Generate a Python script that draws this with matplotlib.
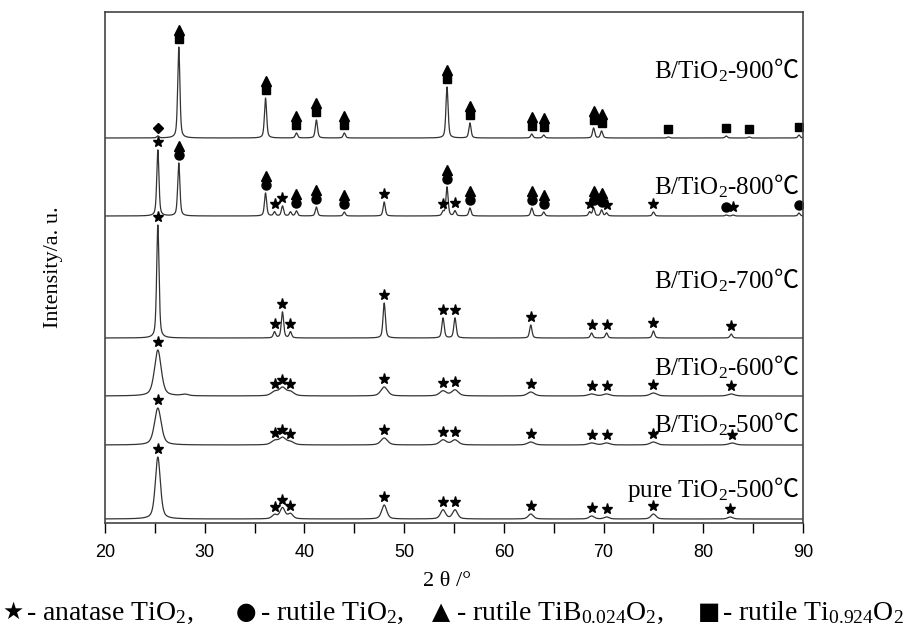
import numpy as np
import matplotlib
matplotlib.use('Agg')
import matplotlib.pyplot as plt

plt.rcParams['font.family'] = ['Liberation Serif', 'Noto Sans CJK SC', 'DejaVu Sans']
plt.rcParams['mathtext.fontset'] = 'custom'
plt.rcParams['mathtext.rm'] = 'Liberation Serif'
plt.rcParams['mathtext.sf'] = 'Noto Sans CJK SC'
plt.rcParams['mathtext.default'] = 'regular'

# XRD patterns, bottom to top
labels = [r'pure TiO$_2$-500$\mathsf{℃}$', r'B/TiO$_2$-500$\mathsf{℃}$',
          r'B/TiO$_2$-600$\mathsf{℃}$', r'B/TiO$_2$-700$\mathsf{℃}$',
          r'B/TiO$_2$-800$\mathsf{℃}$', r'B/TiO$_2$-900$\mathsf{℃}$']
offsets = [4, 78, 127, 185, 307, 385]
peak_width = [0.30, 0.40, 0.40, 0.14, 0.13, 0.13]
label_y = [33, 99, 156, 243, 337, 453]

# peak positions (2theta), heights, phase markers (top to bottom)
pure_pos = [25.3, 37.0, 37.8, 38.6, 48.0, 53.9, 55.1, 62.7, 68.8, 70.3, 75.0, 82.7]
pure_hgt = [62, 4, 11, 5, 14, 9, 9, 5, 3, 2, 5, 2]
pure_mrk = ['*'] * 12

b500_pos = [25.3, 37.0, 37.8, 38.6, 48.0, 53.9, 55.1, 62.7, 68.8, 70.3, 75.0, 82.9]
b500_hgt = [37, 4, 7, 3, 7, 5, 5, 3, 2, 2, 3, 2]
b500_mrk = ['*'] * 12

b600_pos = [25.3, 28.0, 37.0, 37.8, 38.6, 48.0, 53.9, 55.1, 62.7, 68.8, 70.3, 75.0, 82.8]
b600_hgt = [46, 1.5, 4, 8, 4, 9, 5, 6, 4, 2, 2, 3, 2]
b600_mrk = ['*', '', '*', '*', '*', '*', '*', '*', '*', '*', '*', '*', '*']

b700_pos = [25.3, 37.0, 37.8, 38.6, 48.0, 53.9, 55.1, 62.7, 68.8, 70.3, 75.0, 82.8]
b700_hgt = [113, 6, 26, 6, 35, 20, 20, 13, 5, 5, 7, 4]
b700_mrk = ['*'] * 12

b800_pos = [25.3, 27.4, 36.1, 37.0, 37.8, 38.6, 39.2, 41.2, 44.0, 48.0, 53.9, 54.3,
            55.1, 56.6, 62.8, 64.0, 68.6, 69.0, 69.8, 70.3, 75.0, 82.3, 83.0, 89.6]
b800_hgt = [66, 53, 23, 4, 10, 4, 5, 9, 4, 14, 4, 29,
            5, 8, 8, 4, 4, 8, 6, 3, 4, 1, 1, 3]
b800_mrk = ['*', '^o', '^o', '*', '*', '', '^o', '^o', '^o', '*', '*', '^o',
            '*', '^o', '^o', '^o', '*', '^o', '^o', '*', '*', 'o', '*', 'o']

b900_pos = [25.3, 27.4, 36.1, 39.2, 41.2, 44.0, 54.3, 56.6, 62.8, 64.0,
            69.0, 69.8, 76.5, 82.3, 84.6, 89.6]
b900_hgt = [2, 91, 40, 5, 18, 5, 51, 15, 4, 3, 10, 7, 1, 2, 1, 3]
b900_mrk = ['D', '^s', '^s', '^s', '^s', '^s', '^s', '^s', '^s', '^s',
            '^s', '^s', 's', 's', 's', 's']

patterns = [(pure_pos, pure_hgt, pure_mrk), (b500_pos, b500_hgt, b500_mrk),
            (b600_pos, b600_hgt, b600_mrk), (b700_pos, b700_hgt, b700_mrk),
            (b800_pos, b800_hgt, b800_mrk), (b900_pos, b900_hgt, b900_mrk)]

legend_symbols = ['★', '●', '▲', '■']
legend_texts = ['- anatase TiO$_2$,', '- rutile TiO$_2$,',
                '- rutile TiB$_{0.024}$O$_2$,', '- rutile Ti$_{0.924}$O$_2$']
legend_x = [2, 236, 432, 698]

marker_size = {'*': 8, 'o': 6.5, '^': 7, 's': 6, 'D': 5}

fig = plt.figure(figsize=(9.23, 6.37), dpi=100)
ax = fig.add_axes([105 / 923, 1 - 523 / 637, 698 / 923, 511 / 637])

x = np.linspace(20, 90, 7001)
for i, (pos, hgt, mrk) in enumerate(patterns):
    w = peak_width[i]
    y = np.full_like(x, offsets[i], dtype=float)
    for p, h in zip(pos, hgt):
        y += h / (1 + ((x - p) / w) ** 2) * 0.5 + h * np.exp(-((x - p) / w) ** 2 * np.log(2)) * 0.5
    ax.plot(x, y, color='#333333', lw=0.9)
    for p, h, m in zip(pos, hgt, mrk):
        yy = offsets[i] + h + 8
        for sym in reversed(m):
            ax.plot(p, yy, marker=sym, color='black', ms=marker_size[sym], mec='black')
            yy += 9
    ax.text(89.6, label_y[i], labels[i], ha='right', va='center', fontsize=18)

ax.set_xlim(20, 90)
ax.set_ylim(0, 511)
ax.set_xticks(range(20, 91, 10))
ax.set_xticks(range(25, 90, 10), minor=True)
ax.set_yticks([])
ax.tick_params(direction='out', length=7, width=1, pad=8)
ax.tick_params(which='minor', direction='out', length=7, width=1)
for lab in ax.get_xticklabels():
    lab.set_family('Liberation Sans')
    lab.set_fontsize(13)
for s in ax.spines.values():
    s.set_linewidth(1.2)
    s.set_color('#444444')

ax.set_ylabel('Intensity/a. u.', fontsize=16, labelpad=30)
fig.text(447 / 923, 1 - 582 / 637, '2 θ /°', ha='center', va='center', fontsize=16)
for xi, sym, txt in zip(legend_x, legend_symbols, legend_texts):
    fig.text(xi / 923, 1 - 612 / 637, sym, ha='left', va='center', fontsize=17,
             family='DejaVu Sans')
    fig.text((xi + 24) / 923, 1 - 613 / 637, txt, ha='left', va='center', fontsize=20)

fig.savefig('out.png', dpi=100)
